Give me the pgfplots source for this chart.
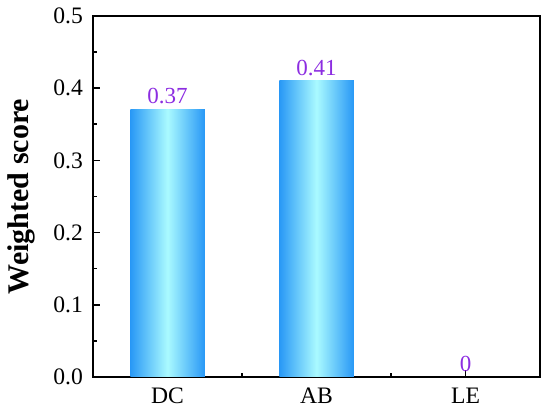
\documentclass[border=0pt]{standalone}
\usepackage{fontspec}
\setmainfont{Liberation Serif}
\usepackage{pgfplots}
\pgfplotsset{compat=1.18}
\definecolor{baredge}{RGB}{40,152,246}
\definecolor{barmid}{RGB}{170,250,255}
\definecolor{lblpurple}{RGB}{140,45,225}
\begin{document}
\begin{tikzpicture}
\begin{axis}[
  name=ax,
  scale only axis,
  width=223.5pt, height=180.5pt,
  xmin=-0.5, xmax=2.5,
  ymin=0, ymax=0.5,
  xtick={0,1,2},
  xticklabels={DC,AB,LE},
  minor xtick={0.5,1.5},
  ytick={0,0.1,0.2,0.3,0.4,0.5},
  minor ytick={0.05,0.15,0.25,0.35,0.45},
  xtick pos=bottom, ytick pos=left,
  tick align=inside,
  major tick length=3.5pt,
  minor tick length=1.8pt,
  axis line style={line width=0.9pt},
  every tick/.style={black, line width=0.8pt},
  /pgf/number format/assume math mode=true,
  yticklabel style={/pgf/number format/fixed,/pgf/number format/fixed zerofill,/pgf/number format/precision=1, xshift=-1.5pt},
  xticklabel style={yshift=-2pt},
  tick label style={font=\fontsize{11.8}{13}\selectfont},
  ylabel={Weighted score},
  ylabel style={font=\fontsize{15}{16}\selectfont\bfseries, at={(axis description cs:-0.161,0.5)}, anchor=center},
  nodes near coords,
  every node near coord/.append style={font=\fontsize{11.5}{13}\selectfont, text=lblpurple, /pgf/number format/assume math mode=true, inner sep=2.6pt},
  point meta=explicit symbolic,
]
\addplot[ybar, bar width=0.5, bar shift=0pt, draw=none, left color=baredge, right color=baredge, middle color=barmid]
  coordinates {(0,0.37) [0.37]};
\addplot[ybar, bar width=0.5, bar shift=0pt, draw=none, left color=baredge, right color=baredge, middle color=barmid]
  coordinates {(1,0.41) [0.41]};
\addplot[ybar, bar width=0.5, bar shift=0pt, draw=none, left color=baredge, right color=baredge, middle color=barmid]
  coordinates {(2,0) [0]};
\end{axis}
\pgfresetboundingbox
\path ([xshift=-46.5pt,yshift=-18pt]ax.south west) rectangle ([xshift=5pt,yshift=8pt]ax.north east);
\end{tikzpicture}
\end{document}
